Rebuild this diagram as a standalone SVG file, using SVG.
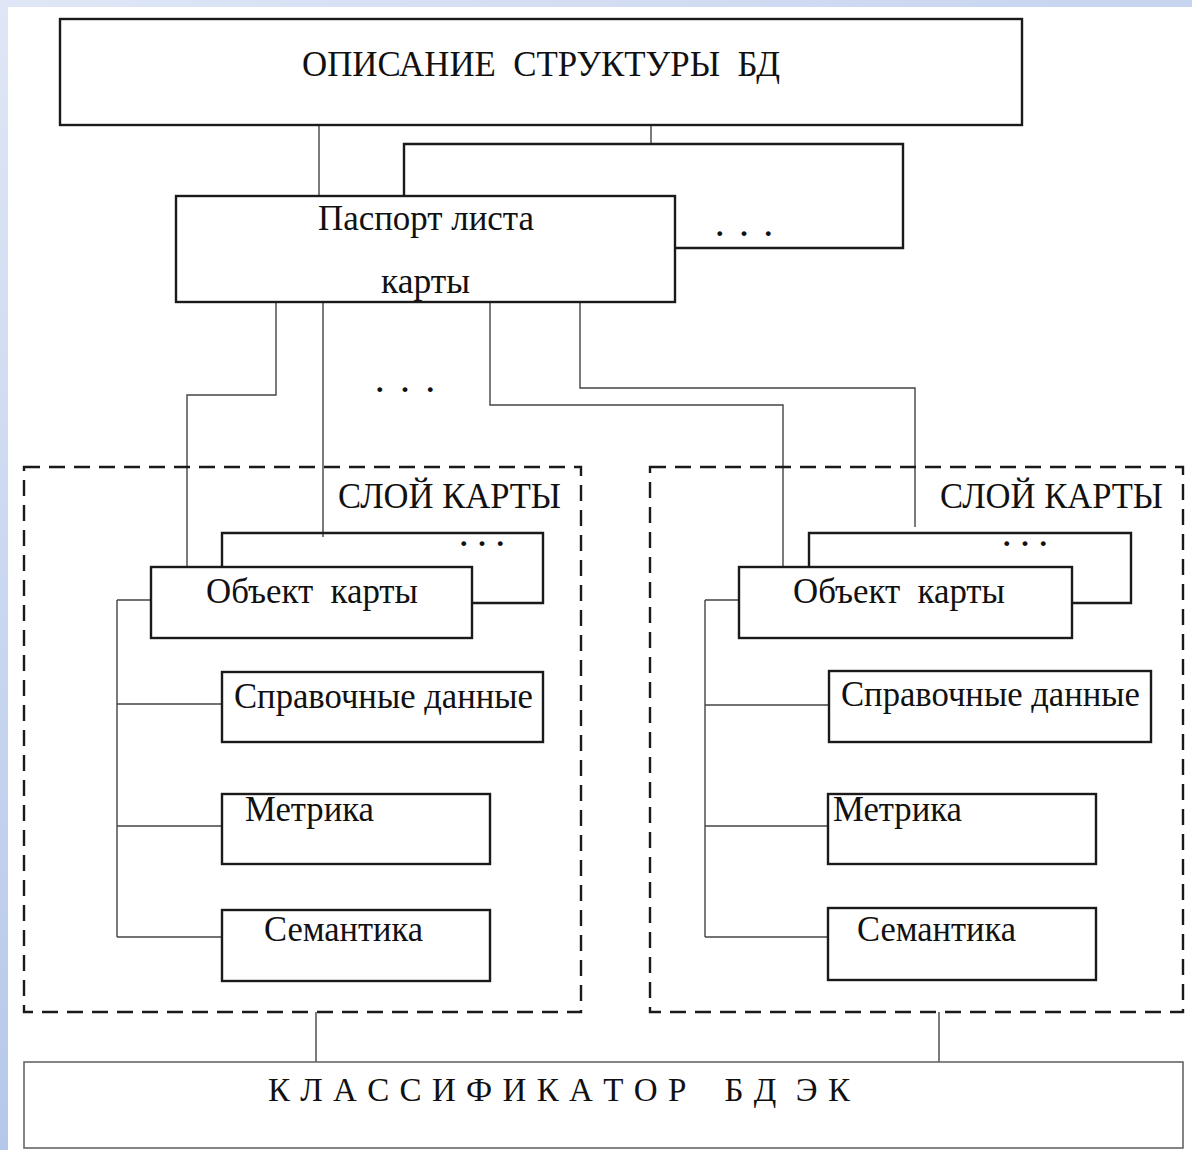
<svg xmlns="http://www.w3.org/2000/svg" width="1192" height="1150" viewBox="0 0 1192 1150">
<defs>
<linearGradient id="lg" x1="0" y1="0" x2="0" y2="1"><stop offset="0" stop-color="#dfe7f6"/><stop offset="1" stop-color="#b6c8ea"/></linearGradient>
<linearGradient id="tg" x1="0" y1="0" x2="1" y2="0"><stop offset="0" stop-color="#dfe7f6"/><stop offset="1" stop-color="#c6d4ef"/></linearGradient>
</defs>
<style>
.box{fill:#fff;stroke:#1a1a1a;stroke-width:2.4}
.dash{fill:none;stroke:#1a1a1a;stroke-width:2.4;stroke-dasharray:16 9}
.ln{fill:none;stroke:#444;stroke-width:1.4}
.bl{fill:none;stroke:#1a1a1a;stroke-width:2.4}
text{font-family:"Liberation Serif","Times New Roman",serif;fill:#111}
.t{font-size:35px}
.dots{font-size:30px;font-weight:bold}
</style>
<rect x="0" y="0" width="1192" height="1150" fill="#fff"/>
<rect x="0" y="0" width="1192" height="7" fill="url(#tg)"/>
<rect x="0" y="0" width="8" height="1150" fill="url(#lg)"/>

<g id="connectors">
<path class="ln" d="M319 125V197"/>
<path class="ln" d="M651 125V144"/>
<path class="bl" d="M404 196V144H903V248H675"/>
<path class="ln" d="M276 302V395H187V567"/>
<path class="ln" d="M323 302V537"/>
<path class="ln" d="M490 302V405H783V567"/>
<path class="ln" d="M580 302V388H915V527"/>
<path class="bl" d="M222 567V533H543V603H472"/>
<path class="bl" d="M809 567V533H1131V603H1072"/>
<path class="ln" d="M117 600V937M117 600H151M117 704H222M117 826H222M117 937H222"/>
<path class="ln" d="M705 600V937M705 600H739M705 705H829M705 826H828M705 937H828"/>
<path class="ln" d="M316 1012V1062M939 1012V1062"/>
</g>

<g id="top">
<rect class="box" x="60" y="19" width="962" height="106"/>
<text class="t" x="302" y="76" textLength="478" lengthAdjust="spacingAndGlyphs" xml:space="preserve">ОПИСАНИЕ  СТРУКТУРЫ  БД</text>
</g>
<g id="dots-top"><text class="dots" x="716" y="236" textLength="56" lengthAdjust="spacing">. . .</text></g>
<g id="passport">
<rect class="box" x="176" y="196" width="499" height="106"/>
<text class="t" x="318" y="230" textLength="216" lengthAdjust="spacingAndGlyphs">Паспорт листа</text>
<text class="t" x="381" y="293" textLength="89" lengthAdjust="spacingAndGlyphs">карты</text>
</g>
<g id="dots-mid"><text class="dots" x="376" y="392" textLength="58" lengthAdjust="spacing">. . .</text></g>

<g id="layer-left">
<rect class="dash" x="24" y="467" width="557" height="545"/>
<text class="t" x="338" y="508" textLength="223" lengthAdjust="spacingAndGlyphs">СЛОЙ КАРТЫ</text>
<text class="dots" x="460" y="546" font-size="24" textLength="44" lengthAdjust="spacing">. . .</text>
</g>
<g id="obj-left">
<rect class="box" x="151" y="567" width="321" height="71"/>
<text class="t" x="206" y="603" textLength="212" lengthAdjust="spacingAndGlyphs" xml:space="preserve">Объект  карты</text>
</g>
<g id="ref-left">
<rect class="box" x="222" y="672" width="321" height="70"/>
<text class="t" x="234" y="708" textLength="299" lengthAdjust="spacingAndGlyphs">Справочные данные</text>
</g>
<g id="metr-left">
<rect class="box" x="222" y="794" width="268" height="70"/>
<text class="t" x="245" y="821" textLength="129" lengthAdjust="spacingAndGlyphs">Метрика</text>
</g>
<g id="sem-left">
<rect class="box" x="222" y="910" width="268" height="71"/>
<text class="t" x="264" y="941" textLength="159" lengthAdjust="spacingAndGlyphs">Семантика</text>
</g>

<g id="layer-right">
<rect class="dash" x="650" y="467" width="533" height="545"/>
<text class="t" x="940" y="508" textLength="223" lengthAdjust="spacingAndGlyphs">СЛОЙ КАРТЫ</text>
<text class="dots" x="1003" y="546" font-size="24" textLength="44" lengthAdjust="spacing">. . .</text>
</g>
<g id="obj-right">
<rect class="box" x="739" y="567" width="333" height="71"/>
<text class="t" x="793" y="603" textLength="212" lengthAdjust="spacingAndGlyphs" xml:space="preserve">Объект  карты</text>
</g>
<g id="ref-right">
<rect class="box" x="829" y="671" width="322" height="71"/>
<text class="t" x="841" y="706" textLength="299" lengthAdjust="spacingAndGlyphs">Справочные данные</text>
</g>
<g id="metr-right">
<rect class="box" x="828" y="794" width="268" height="70"/>
<text class="t" x="833" y="821" textLength="129" lengthAdjust="spacingAndGlyphs">Метрика</text>
</g>
<g id="sem-right">
<rect class="box" x="828" y="908" width="268" height="72"/>
<text class="t" x="857" y="941" textLength="159" lengthAdjust="spacingAndGlyphs">Семантика</text>
</g>

<g id="classifier">
<rect x="24" y="1062" width="1159" height="86" fill="#fff" stroke="#666" stroke-width="1.6"/>
<text x="268" y="1101" font-size="33" textLength="582" lengthAdjust="spacing" xml:space="preserve">К Л А С С И Ф И К А Т О Р    Б Д  Э К</text>
</g>
</svg>
